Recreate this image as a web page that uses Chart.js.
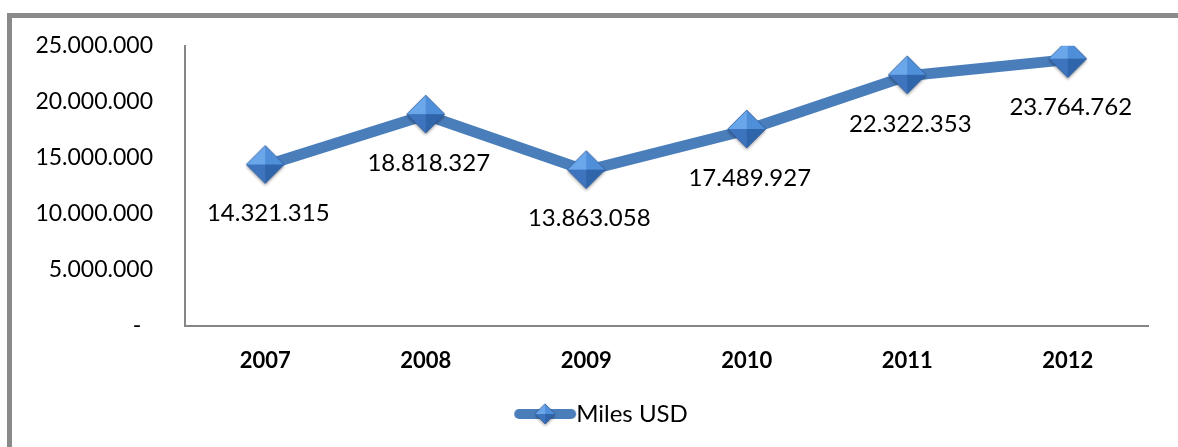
<!DOCTYPE html>
<html>
<head>
<meta charset="utf-8">
<script src="https://cdn.jsdelivr.net/npm/chart.js@4.4.1/dist/chart.umd.min.js"></script>
<style>
  html, body { margin: 0; padding: 0; background: #fff; overflow: hidden; }
  #wrap { position: relative; width: 1178px; height: 447px; }
  #frame { position: absolute; left: 7px; top: 13px; width: 1200px; height: 500px;
           border-left: 5px solid #8a8a8a; border-top: 5px solid #8a8a8a; pointer-events: none; }
  canvas { position: absolute; left: 0; top: 0; }
</style>
</head>
<body>
<div id="wrap">
  <canvas id="c" width="1178" height="447"></canvas>
  <div id="frame"></div>
</div>
<script>
const categories = ['2007', '2008', '2009', '2010', '2011', '2012'];
const seriesName = 'Miles USD';
const seriesValues = [14321315, 18818327, 13863058, 17489927, 22322353, 23764762];
const yTicks = [0, 5000000, 10000000, 15000000, 20000000, 25000000];

const FONT = 'Lato, "Open Sans", sans-serif';
const LINE = '#4a7ebb';

function fmt(v) {
  return String(v).replace(/\B(?=(\d{3})+(?!\d))/g, '.');
}

function drawDiamond(ctx, cx, cy, r) {
  ctx.save();
  ctx.shadowColor = 'rgba(0,0,0,0.35)';
  ctx.shadowBlur = 3;
  ctx.shadowOffsetY = 2;
  ctx.beginPath();
  ctx.moveTo(cx, cy - r); ctx.lineTo(cx + r, cy); ctx.lineTo(cx, cy + r); ctx.lineTo(cx - r, cy); ctx.closePath();
  ctx.fillStyle = '#3f73b4';
  ctx.fill();
  ctx.restore();
  const facets = [
    [[cx, cy - r], [cx - r, cy], '#6aa6ea'],
    [[cx, cy - r], [cx + r, cy], '#4f8ed8'],
    [[cx, cy + r], [cx - r, cy], '#3d74bd'],
    [[cx, cy + r], [cx + r, cy], '#2f65ab']
  ];
  facets.forEach(f => {
    ctx.beginPath();
    ctx.moveTo(cx, cy); ctx.lineTo(f[0][0], f[0][1]); ctx.lineTo(f[1][0], f[1][1]); ctx.closePath();
    ctx.fillStyle = f[2];
    ctx.fill();
  });
  ctx.beginPath();
  ctx.moveTo(cx, cy - r); ctx.lineTo(cx + r, cy); ctx.lineTo(cx, cy + r); ctx.lineTo(cx - r, cy); ctx.closePath();
  ctx.strokeStyle = 'rgba(40,80,140,0.6)';
  ctx.lineWidth = 1;
  ctx.stroke();
}

function makeMarker(r) {
  const s = 2 * r + 8;
  const c = document.createElement('canvas');
  c.width = s; c.height = s;
  drawDiamond(c.getContext('2d'), s / 2, s / 2 - 1, r);
  return c;
}

// legend symbol: transparent left margin so the visible part sits right of the centre
function makeLegendSymbol() {
  const pad = 54, w = 64, h = 26;
  const c = document.createElement('canvas');
  c.width = w + pad; c.height = h;
  const ctx = c.getContext('2d');
  ctx.strokeStyle = LINE;
  ctx.lineWidth = 10;
  ctx.lineCap = 'round';
  ctx.beginPath();
  ctx.moveTo(pad + 6, h / 2); ctx.lineTo(pad + w - 6, h / 2);
  ctx.stroke();
  drawDiamond(ctx, pad + w / 2, h / 2, 10);
  return c;
}

const marker = makeMarker(19);
const legendSymbol = makeLegendSymbol();

const dataLabels = {
  id: 'dataLabels',
  afterDatasetsDraw(chart) {
    const ctx = chart.ctx;
    const meta = chart.getDatasetMeta(0);
    ctx.save();
    ctx.font = '24px ' + FONT;
    ctx.fillStyle = '#000';
    ctx.textAlign = 'center';
    ctx.textBaseline = 'middle';
    meta.data.forEach((el, i) => {
      ctx.fillText(fmt(chart.data.datasets[0].data[i]), el.x + 3, el.y + 48);
    });
    ctx.restore();
  }
};

new Chart(document.getElementById('c'), {
  type: 'line',
  data: {
    labels: categories,
    datasets: [{
      label: seriesName,
      data: seriesValues,
      borderColor: LINE,
      backgroundColor: LINE,
      borderWidth: 11,
      tension: 0,
      pointStyle: marker,
      pointRadius: 19,
      pointHoverRadius: 19
    }]
  },
  options: {
    responsive: false,
    animation: false,
    events: [],
    layout: { padding: { left: 0, right: 18, top: 45, bottom: 11 } },
    plugins: {
      title: { display: false },
      tooltip: { enabled: false },
      legend: {
        position: 'bottom',
        labels: {
          usePointStyle: true,
          pointStyleWidth: 92,
          padding: 10,
          color: '#000',
          font: { family: FONT, size: 24 },
          generateLabels(chart) {
            return [{
              text: seriesName,
              pointStyle: legendSymbol,
              fillStyle: LINE,
              strokeStyle: LINE,
              lineWidth: 0,
              datasetIndex: 0,
              hidden: false
            }];
          }
        }
      }
    },
    scales: {
      x: {
        offset: true,
        grid: { display: false, drawTicks: false },
        border: { display: true, color: '#868686', width: 2 },
        ticks: { color: '#000', font: { family: FONT, size: 22, weight: 'bold' }, padding: 22 },
        afterFit(scale) { scale.height = 66; }
      },
      y: {
        min: 0,
        max: 25000000,
        grid: { display: false, drawTicks: false },
        border: { display: true, color: '#868686', width: 2 },
        afterBuildTicks(scale) { scale.ticks = yTicks.map(v => ({ value: v })); },
        ticks: {
          color: '#000',
          font: { family: FONT, size: 23 },
          padding: 32,
          callback: v => v === 0 ? '-  ' : fmt(v)
        },
        afterFit(scale) { scale.width = 185; }
      }
    }
  },
  plugins: [dataLabels]
});
</script>
</body>
</html>
